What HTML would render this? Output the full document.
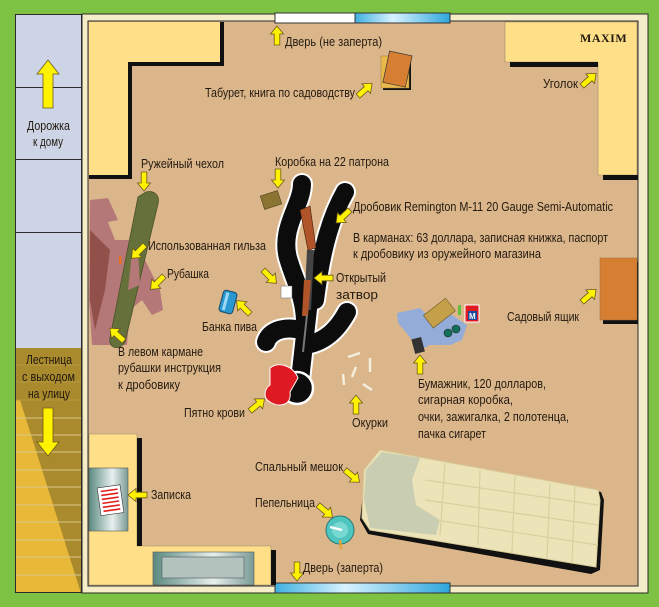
<!DOCTYPE html>
<html><head><meta charset="utf-8"><style>
html,body{margin:0;padding:0;background:#7dc242;}
svg{display:block}
text{font-family:"Liberation Sans Narrow","Liberation Sans",sans-serif;font-size:12.5px;fill:#231a10}
</style></head><body>
<svg width="659" height="607" viewBox="0 0 659 607" xmlns="http://www.w3.org/2000/svg">
<defs>
<g id="ar"><path d="M0,-2.8 L11,-2.8 L11,-6.5 L19,0 L11,6.5 L11,2.8 L0,2.8 Z" fill="#fff200" stroke="#6b5a20" stroke-width="0.8"/></g>
<g id="big"><path d="M0,-5 L34,-5 L34,-11 L48,0 L34,11 L34,5 L0,5 Z" fill="#fff200" stroke="#6b5a20" stroke-width="0.8"/></g>
<linearGradient id="gl" x1="0" x2="1" y1="0" y2="0"><stop offset="0" stop-color="#5a8a80"/><stop offset="0.6" stop-color="#e8f0ee"/><stop offset="1" stop-color="#7a9a94"/></linearGradient>
<linearGradient id="bl" x1="0" x2="1"><stop offset="0" stop-color="#3fb0e0"/><stop offset="0.4" stop-color="#d8f2ff"/><stop offset="1" stop-color="#2ea6dc"/></linearGradient>
</defs>
<rect width="659" height="607" fill="#7dc242"/>
<rect x="15" y="14" width="67" height="579" fill="#2a2a2a"/>
<rect x="16" y="15" width="65" height="72" fill="#ccd4e6"/>
<rect x="16" y="88" width="65" height="71" fill="#ccd4e6"/>
<rect x="16" y="160" width="65" height="72" fill="#ccd4e6"/>
<rect x="16" y="233" width="65" height="115" fill="#ccd4e6"/>
<rect x="16" y="348" width="65" height="244" fill="#a98a2c"/>
<polygon points="16,400 20,400 80,590 80,592 16,592" fill="#e8b838"/>
<g stroke="#d9c78a" stroke-width="1">
<line x1="16" y1="418" x2="81" y2="418"/><line x1="16" y1="435" x2="81" y2="435"/><line x1="16" y1="452" x2="81" y2="452"/><line x1="16" y1="470" x2="81" y2="470"/><line x1="16" y1="487" x2="81" y2="487"/><line x1="16" y1="505" x2="81" y2="505"/><line x1="16" y1="522" x2="81" y2="522"/><line x1="16" y1="540" x2="81" y2="540"/><line x1="16" y1="557" x2="81" y2="557"/><line x1="16" y1="575" x2="81" y2="575"/>
<line x1="16" y1="365" x2="81" y2="365" stroke="#b89a40"/><line x1="16" y1="382" x2="81" y2="382" stroke="#b89a40"/><line x1="16" y1="400" x2="81" y2="400" stroke="#b89a40"/></g>
<rect x="82" y="14" width="566" height="579" fill="#f5ecc8" stroke="#2a2a2a"/>
<rect x="88" y="21" width="550" height="565" fill="#dcb68b" stroke="#2a2a2a"/>
<rect x="275" y="13" width="80" height="10" fill="#fff" stroke="#333"/>
<rect x="355" y="13" width="95" height="10" fill="url(#bl)" stroke="#333"/>
<rect x="275" y="583" width="175" height="10" fill="url(#bl)" stroke="#333"/>
<path d="M89,22 H220 V62 H128 V175 H89 Z" fill="#ffdf88"/>
<path d="M220,22 V62 H128 V175 H89 V179 H132 V66 H224 V22 Z" fill="#111"/>
<path d="M505,22 H637 V175 H598 V62 H505 Z" fill="#ffdf88" stroke="#9a8a6a" stroke-width="0.6"/>
<rect x="510" y="62" width="88" height="5" fill="#111"/><rect x="603" y="175" width="35" height="5" fill="#111"/>
<path d="M89,434 H137 V546 H271 V585 H89 Z" fill="#ffdf88" stroke="#9a8a6a" stroke-width="0.6"/>
<rect x="137" y="438" width="5" height="108" fill="#111"/><rect x="271" y="550" width="5" height="35" fill="#111"/>
<rect x="89" y="468" width="39" height="63" fill="url(#gl)" stroke="#555" stroke-width="0.6"/>
<g transform="rotate(-8 112 500)"><rect x="99" y="486" width="23" height="28" fill="#fff" stroke="#333" stroke-width="0.6"/>
<g stroke="#e02020" stroke-width="1.6"><line x1="102" y1="490" x2="119" y2="490"/><line x1="102" y1="494" x2="119" y2="494"/><line x1="102" y1="498" x2="119" y2="498"/><line x1="102" y1="502" x2="119" y2="502"/><line x1="102" y1="506" x2="119" y2="506"/><line x1="102" y1="510" x2="119" y2="510"/></g></g>
<rect x="153" y="552" width="101" height="33" fill="url(#gl)" stroke="#555" stroke-width="0.6"/>
<rect x="162" y="557" width="82" height="21" fill="#b2c2bc" stroke="#555" stroke-width="0.6"/>
<rect x="603" y="262" width="35" height="62" fill="#111"/>
<rect x="600" y="258" width="37" height="62" fill="#d67f32" stroke="#9a6a3a" stroke-width="0.5"/>
<rect x="383" y="58" width="28" height="32" fill="#111"/>
<rect x="381" y="56" width="28" height="32" fill="#ebb94a" stroke="#9a7a3a" stroke-width="0.5"/>
<g transform="rotate(12 397 69)"><rect x="386" y="53" width="23" height="32" fill="#d67f32" stroke="#333" stroke-width="0.7"/></g>
<path d="M380,450 L601,492 L604,500 L600,570 L591,574 L368,534 L360,520 L363,495 L365,470 Z" fill="#111"/>
<path d="M380,450 L598,490 L600,500 L596,567 L370,530 L362,518 L364,470 Z" fill="#ece4b8" stroke="#d8cc98"/>
<path d="M382,452 L420,458 L412,480 L416,505 L440,520 L436,535 L370,528 L364,500 L366,470 Z" fill="#c9cdb2"/>
<g stroke="#d9d09e" stroke-width="1.2" fill="none"><path d="M445,463 L440,535"/><path d="M480,470 L478,545"/><path d="M515,476 L512,552"/><path d="M550,483 L547,558"/><path d="M575,487 L572,563"/><path d="M425,480 L598,505"/><path d="M425,500 L598,525"/><path d="M435,520 L598,545"/></g>
<circle cx="340" cy="530" r="14" fill="#4fc5c0" stroke="#2a7a78"/>
<circle cx="340" cy="530" r="8" fill="#7ad8d2"/>
<line x1="330" y1="527" x2="342" y2="530" stroke="#fff" stroke-width="2.2"/>
<line x1="340" y1="540" x2="341" y2="549" stroke="#e8a030" stroke-width="2.2"/>
<path d="M90,200 L108,198 L118,220 L108,222 L115,240 L135,240 L150,270 L160,290 L163,310 L152,315 L142,300 L130,310 L127,345 L92,345 L89,300 Z" fill="#b57878"/>
<path d="M90,230 L110,250 L105,290 L95,330 L90,300 Z" fill="#92504a"/>
<path d="M146,192 C155,190 160,196 158,204 L125,342 C121,350 108,350 110,338 L138,197 Z" fill="#66703a" stroke="#4a5228" stroke-width="0.8"/>
<path d="M138,250 L132,252 L128,290 L140,285 Z" fill="#b57878"/>
<rect x="119" y="256" width="2.5" height="8" fill="#e87020"/>
<g transform="rotate(15 228 302)"><rect x="221" y="291" width="14" height="22" rx="3" fill="#2a98d0" stroke="#1a4a6a"/><rect x="224" y="293" width="3" height="18" fill="#9ad8f6"/></g>
<g transform="rotate(-18 271 200)"><rect x="262" y="193" width="18" height="14" fill="#8a7432" stroke="#5a4a20" stroke-width="0.7"/></g>
<g fill="none" stroke-linecap="round" stroke-linejoin="round">
<g stroke="#fff" stroke-width="22">
<path d="M302,184 C302,205 280,228 288,258 C295,282 304,295 305,320"/>
<path d="M345,192 C332,215 322,245 315,300"/>
<path d="M309,300 L300,380"/>
<path d="M301,330 C285,326 270,330 266,342"/>
<path d="M305,345 C328,342 340,325 347,312"/></g>
<g stroke="#0c0c0c" stroke-width="18">
<path d="M302,184 C302,205 280,228 288,258 C295,282 304,295 305,320"/>
<path d="M345,192 C332,215 322,245 315,300"/>
<path d="M309,300 L300,380"/>
<path d="M301,330 C285,326 270,330 266,342"/>
<path d="M305,345 C328,342 340,325 347,312"/></g></g>
<circle cx="297" cy="388" r="16" fill="#0c0c0c" stroke="#fff" stroke-width="2.5"/>
<path d="M270,368 C280,360 295,368 298,378 L290,392 C292,405 280,408 270,402 C262,398 265,388 270,385 Z" fill="#e01a22" stroke="#fff" stroke-width="1"/>
<path d="M300,210 L310,206 L316,248 L308,250 Z" fill="#b0542a" stroke="#3a1a0a" stroke-width="0.6"/>
<path d="M307,250 L314,250 L311,310 L304,310 Z" fill="#444"/>
<path d="M304,280 L311,280 L308,316 L302,316 Z" fill="#b0542a"/>
<line x1="307" y1="315" x2="303" y2="352" stroke="#777" stroke-width="2"/>
<rect x="281" y="286" width="11" height="12" fill="#fff" stroke="#666" stroke-width="0.5"/>
<g stroke-width="2.4"><line x1="348" y1="357" x2="360" y2="353" stroke="#f4f0e0"/><line x1="370" y1="358" x2="370" y2="372" stroke="#f4f0e0"/><line x1="356" y1="367" x2="352" y2="377" stroke="#f4f0e0"/><line x1="343" y1="374" x2="344" y2="385" stroke="#f4f0e0"/><line x1="363" y1="384" x2="372" y2="390" stroke="#f4f0e0"/></g>
<path d="M397,313 L420,308 L430,318 L452,315 L467,325 L462,340 L450,345 L430,345 L420,350 L412,340 L404,330 L398,323 Z" fill="#93acd8"/>
<g transform="rotate(-38 438 313)"><rect x="425" y="306" width="28" height="16" fill="#c4a048" stroke="#6a5420" stroke-width="0.6"/></g>
<circle cx="448" cy="333" r="4" fill="#10705a" stroke="#222" stroke-width="0.6"/><circle cx="456" cy="329" r="4" fill="#10705a" stroke="#222" stroke-width="0.6"/>
<rect x="458" y="305" width="3" height="10" fill="#60c040"/>
<rect x="465" y="305" width="14" height="17" fill="#e01a22" stroke="#fff" stroke-width="1"/>
<rect x="468" y="311" width="9" height="9" fill="#1a4aa0"/><text x="469" y="319" style="font-size:8px;fill:#fff;font-weight:bold">M</text>
<g transform="rotate(-15 418 345)"><rect x="413" y="338" width="10" height="15" fill="#333"/></g>
<use href="#big" transform="translate(48,108) rotate(-90)"/>
<use href="#big" transform="translate(48,408) rotate(90)"/>
<use href="#ar" transform="translate(277,45) rotate(-90)"/>
<use href="#ar" transform="translate(358,96) rotate(-42)"/>
<use href="#ar" transform="translate(582,86) rotate(-42)"/>
<use href="#ar" transform="translate(144,172) rotate(90)"/>
<use href="#ar" transform="translate(278,169) rotate(90)"/>
<use href="#ar" transform="translate(350,210) rotate(137)"/>
<use href="#ar" transform="translate(145,245) rotate(135)"/>
<use href="#ar" transform="translate(164,276) rotate(135)"/>
<use href="#ar" transform="translate(333,278) rotate(180)"/>
<use href="#ar" transform="translate(250,314) rotate(-135)"/>
<use href="#ar" transform="translate(124,341) rotate(-138)"/>
<use href="#ar" transform="translate(250,411) rotate(-40)"/>
<use href="#ar" transform="translate(356,414) rotate(-90)"/>
<use href="#ar" transform="translate(420,374) rotate(-90)"/>
<use href="#ar" transform="translate(582,302) rotate(-42)"/>
<use href="#ar" transform="translate(345,470) rotate(40)"/>
<use href="#ar" transform="translate(318,505) rotate(40)"/>
<use href="#ar" transform="translate(147,495) rotate(180)"/>
<use href="#ar" transform="translate(297,562) rotate(90)"/>
<use href="#ar" transform="translate(263,270) rotate(45)"/>
<text x="285" y="46" textLength="97" lengthAdjust="spacingAndGlyphs">Дверь (не заперта)</text>
<text x="205" y="97" textLength="150" lengthAdjust="spacingAndGlyphs">Табурет, книга по садоводству</text>
<text x="543" y="88" textLength="35" lengthAdjust="spacingAndGlyphs">Уголок</text>
<text x="580" y="42" style="font-family:'Liberation Serif',serif;font-weight:bold;font-size:12px;letter-spacing:0.5px">MAXIM</text>
<text x="27" y="130" textLength="43" lengthAdjust="spacingAndGlyphs">Дорожка</text>
<text x="33" y="146" textLength="30" lengthAdjust="spacingAndGlyphs">к дому</text>
<text x="26" y="364" textLength="46" lengthAdjust="spacingAndGlyphs">Лестница</text>
<text x="22" y="381" textLength="53" lengthAdjust="spacingAndGlyphs">с выходом</text>
<text x="28" y="398" textLength="42" lengthAdjust="spacingAndGlyphs">на улицу</text>
<text x="141" y="168" textLength="83" lengthAdjust="spacingAndGlyphs">Ружейный чехол</text>
<text x="275" y="166" textLength="114" lengthAdjust="spacingAndGlyphs">Коробка на 22 патрона</text>
<text x="353" y="211" textLength="260" lengthAdjust="spacingAndGlyphs">Дробовик Remington M-11 20 Gauge Semi-Automatic</text>
<text x="353" y="242" textLength="255" lengthAdjust="spacingAndGlyphs">В карманах: 63 доллара, записная книжка, паспорт</text>
<text x="353" y="258" textLength="188" lengthAdjust="spacingAndGlyphs">к дробовику из оружейного магазина</text>
<text x="148" y="250" textLength="118" lengthAdjust="spacingAndGlyphs">Использованная гильза</text>
<text x="167" y="278" textLength="42" lengthAdjust="spacingAndGlyphs">Рубашка</text>
<text x="336" y="282" textLength="50" lengthAdjust="spacingAndGlyphs">Открытый</text>
<text x="336" y="299" textLength="42" lengthAdjust="spacingAndGlyphs">затвор</text>
<text x="202" y="331" textLength="55" lengthAdjust="spacingAndGlyphs">Банка пива</text>
<text x="507" y="321" textLength="72" lengthAdjust="spacingAndGlyphs">Садовый ящик</text>
<text x="118" y="356" textLength="85" lengthAdjust="spacingAndGlyphs">В левом кармане</text>
<text x="118" y="372" textLength="103" lengthAdjust="spacingAndGlyphs">рубашки инструкция</text>
<text x="118" y="389" textLength="62" lengthAdjust="spacingAndGlyphs">к дробовику</text>
<text x="184" y="417" textLength="61" lengthAdjust="spacingAndGlyphs">Пятно крови</text>
<text x="352" y="427" textLength="36" lengthAdjust="spacingAndGlyphs">Окурки</text>
<text x="418" y="388" textLength="128" lengthAdjust="spacingAndGlyphs">Бумажник, 120 долларов,</text>
<text x="418" y="404" textLength="95" lengthAdjust="spacingAndGlyphs">сигарная коробка,</text>
<text x="418" y="421" textLength="151" lengthAdjust="spacingAndGlyphs">очки, зажигалка, 2 полотенца,</text>
<text x="418" y="438" textLength="68" lengthAdjust="spacingAndGlyphs">пачка сигарет</text>
<text x="255" y="471" textLength="88" lengthAdjust="spacingAndGlyphs">Спальный мешок</text>
<text x="255" y="507" textLength="60" lengthAdjust="spacingAndGlyphs">Пепельница</text>
<text x="151" y="499" textLength="40" lengthAdjust="spacingAndGlyphs">Записка</text>
<text x="303" y="572" textLength="80" lengthAdjust="spacingAndGlyphs">Дверь (заперта)</text>
</svg>
</body></html>
